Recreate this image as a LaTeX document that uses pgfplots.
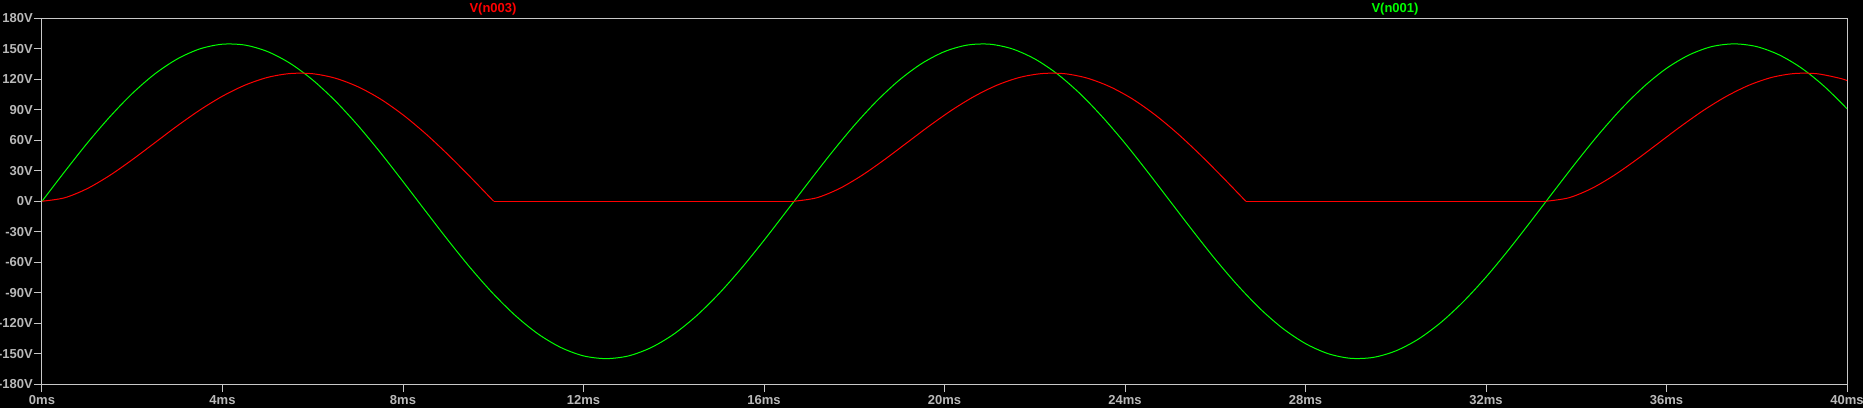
\documentclass[border=0pt]{standalone}
\usepackage{fontspec}
\setmainfont{Liberation Sans}
\usepackage{pgfplots}
\pgfplotsset{compat=1.18}

\definecolor{framegray}{RGB}{200,200,200}
\definecolor{labelgray}{RGB}{185,185,185}
\definecolor{tracered}{RGB}{255,0,0}
\definecolor{tracegreen}{RGB}{0,255,0}

\begin{document}
\begin{tikzpicture}[x=1pt,y=1pt]
\useasboundingbox (0,0) rectangle (1863,408);
\fill[black] (0,0) rectangle (1863,408);
\begin{axis}[
    at={(42pt,24pt)}, anchor=south west,
    scale only axis, width=1805pt, height=365.5pt,
    xmin=0, xmax=40, ymin=-180, ymax=180,
    axis line style={draw=framegray, line width=1pt},
    every tick/.style={draw=framegray, line width=1pt},
    tick align=outside, major tick length=8pt,
    xtick pos=left, ytick pos=left,
    xtick={0,4,8,12,16,20,24,28,32,36,40},
    xticklabels={0ms,4ms,8ms,12ms,16ms,20ms,24ms,28ms,32ms,36ms,40ms},
    ytick={-180,-150,-120,-90,-60,-30,0,30,60,90,120,150,180},
    yticklabels={-180V,-150V,-120V,-90V,-60V,-30V,0V,30V,60V,90V,120V,150V,180V},
    ticklabel style={text=labelgray, font=\fontsize{13}{15}\selectfont\bfseries},
    xticklabel style={anchor=north, inner sep=0pt, yshift=-3pt},
    yticklabel style={anchor=east, inner sep=0pt, xshift=-1pt},
    clip=true,
  ]
  % V(n001)
  \addplot[tracegreen, line width=1pt, smooth] coordinates {
    (0,0) (0.5,29.0) (1,57.1) (1.5,83.0) (2,106.1) (2.5,125.4) (3,140.2) (3.5,150.1)
    (4,154.7) (4.5,153.8) (5,147.4) (5.5,135.8) (6,119.4) (6.5,98.8) (7,74.7) (7.5,47.9)
    (8,19.4) (8.5,-9.7) (9,-38.5) (9.5,-66.0) (10,-91.1) (10.5,-113.0) (11,-130.9) (11.5,-144.1)
    (12,-152.3) (12.5,-155.0) (13,-152.3) (13.5,-144.1) (14,-130.9) (14.5,-113.0) (15,-91.1) (15.5,-66.0)
    (16,-38.5) (16.5,-9.7) (17,19.4) (17.5,47.9) (18,74.7) (18.5,98.8) (19,119.4) (19.5,135.8)
    (20,147.4) (20.5,153.8) (21,154.7) (21.5,150.1) (22,140.2) (22.5,125.4) (23,106.1) (23.5,83.0)
    (24,57.1) (24.5,29.0) (25,0) (25.5,-29.0) (26,-57.1) (26.5,-83.0) (27,-106.1) (27.5,-125.4)
    (28,-140.2) (28.5,-150.1) (29,-154.7) (29.5,-153.8) (30,-147.4) (30.5,-135.8) (31,-119.4) (31.5,-98.8)
    (32,-74.7) (32.5,-47.9) (33,-19.4) (33.5,9.7) (34,38.5) (34.5,66.0) (35,91.1) (35.5,113.0)
    (36,130.9) (36.5,144.1) (37,152.3) (37.5,155.0) (38,152.3) (38.5,144.1) (39,130.9) (39.5,113.0)
    (40,91.1)
  };
  % V(n003): conducting humps and the flat parts between them
  \addplot[tracered, line width=1pt, smooth] coordinates {
    (0,0) (0.5,3.4) (1,12.4) (1.5,25.4) (2,40.9) (2.5,57.6) (3,74.3) (3.5,89.9)
    (4,103.5) (4.5,114.4) (5,122.0) (5.5,125.8) (6,125.6) (6.5,121.2) (7,112.8) (7.5,100.7)
    (8,85.1) (8.5,66.6) (9,45.8) (9.5,23.5) (10.01,0)
  };
  \addplot[tracered, line width=1pt] coordinates {(10.01,0) (16.667,0)};
  \addplot[tracered, line width=1pt, smooth] coordinates {
    (16.667,0) (17.167,3.4) (17.667,12.4) (18.167,25.4) (18.667,40.9) (19.167,57.6) (19.667,74.3)
    (20.167,89.9) (20.667,103.5) (21.167,114.4) (21.667,122.0) (22.167,125.8) (22.667,125.6)
    (23.167,121.2) (23.667,112.8) (24.167,100.7) (24.667,85.1) (25.167,66.6) (25.667,45.8)
    (26.167,23.5) (26.677,0)
  };
  \addplot[tracered, line width=1pt] coordinates {(26.677,0) (33.333,0)};
  \addplot[tracered, line width=1pt, smooth] coordinates {
    (33.333,0) (33.833,3.4) (34.333,12.4) (34.833,25.4) (35.333,40.9) (35.833,57.6) (36.333,74.3)
    (36.833,89.9) (37.333,103.5) (37.833,114.4) (38.333,122.0) (38.833,125.8) (39.333,125.6)
    (39.833,121.2) (40,118.9)
  };
\end{axis}
\node[anchor=base, text=tracered, font=\fontsize{13}{15}\selectfont\bfseries] at (493,395) {V(n003)};
\node[anchor=base, text=tracegreen, font=\fontsize{13}{15}\selectfont\bfseries] at (1395,395) {V(n001)};
\end{tikzpicture}
\end{document}
